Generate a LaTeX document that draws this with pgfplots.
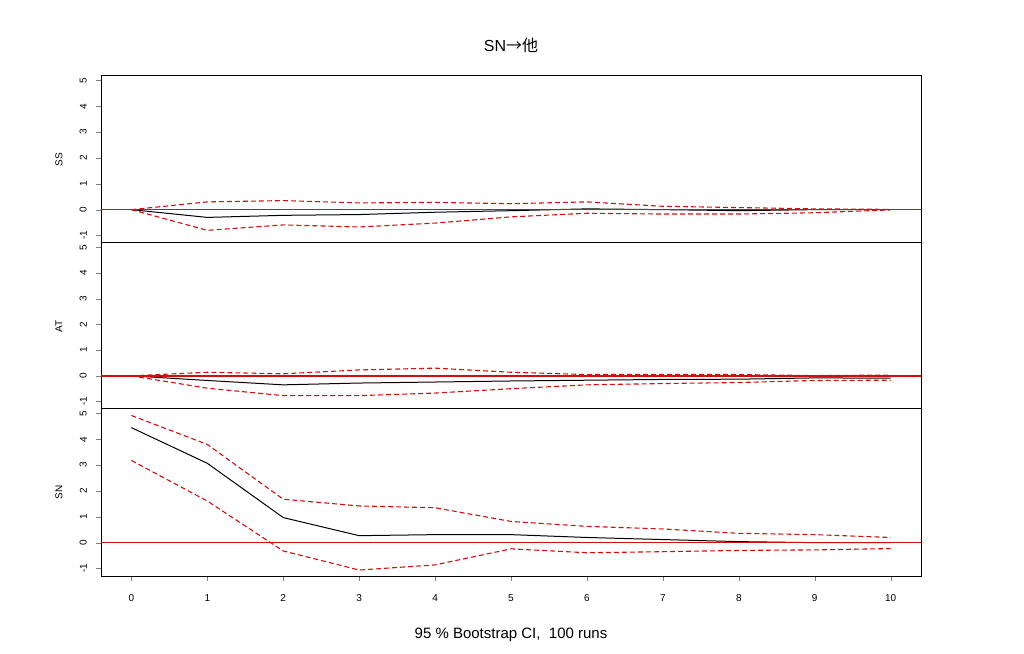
\documentclass[border=0pt]{standalone}
\usepackage{pgfplots}
\pgfplotsset{compat=1.18}
\usepackage{fontspec}
\setmainfont{Liberation Sans}
\newfontfamily\cjk{Noto Sans CJK SC}
\definecolor{rred}{RGB}{210,15,15}
\pgfplotsset{
  irfpanel/.style={
    width=820pt, scale only axis,
    xmin=-0.4, xmax=10.4, ymin=-1.29, ymax=5.17,
    ytick={-1,0,1,2,3,4,5},
    tick pos=left, tick align=outside, major tick length=5pt,
    /pgf/number format/assume math mode=true,
    tick label style={font=\fontsize{10}{12}\selectfont},
    yticklabel style={rotate=90, anchor=south, inner sep=0pt},
    xticklabel style={inner sep=0pt},
    axis line style={black, line width=1pt},
  },
  irf/.style={draw=black, line width=1pt},
  ci/.style={draw=rred, line width=1.1pt, dash pattern=on 5pt off 3pt},
  zeroline/.style={draw=rred, line width=1.5pt},
}
\begin{document}
\begin{tikzpicture}
\path[use as bounding box] (0,0) rectangle (1024pt,653pt);
% top: SS
\begin{axis}[irfpanel, at={(101pt,410pt)}, anchor=south west, height=167pt, xtick=\empty, yticklabel shift=9pt]
\addplot[irf] coordinates {(0,0) (1,-0.30) (2,-0.22) (3,-0.19) (4,-0.10) (5,-0.04) (6,0.03) (7,0.0) (8,-0.04) (9,0.0) (10,0.0)};
\addplot[zeroline] coordinates {(-1,0) (11,0)};
\addplot[ci] coordinates {(0,0) (1,0.30) (2,0.35) (3,0.26) (4,0.28) (5,0.23) (6,0.30) (7,0.13) (8,0.08) (9,0.03) (10,0.01)};
\addplot[ci] coordinates {(0,0) (1,-0.80) (2,-0.59) (3,-0.67) (4,-0.52) (5,-0.28) (6,-0.14) (7,-0.17) (8,-0.17) (9,-0.12) (10,-0.01)};
\end{axis}
% middle: AT
\begin{axis}[irfpanel, at={(101pt,244pt)}, anchor=south west, height=166pt, xtick=\empty, yticklabel shift=9pt]
\addplot[irf] coordinates {(0,0) (1,-0.18) (2,-0.35) (3,-0.28) (4,-0.24) (5,-0.20) (6,-0.17) (7,-0.14) (8,-0.13) (9,-0.08) (10,-0.09)};
\addplot[zeroline] coordinates {(-1,0) (11,0)};
\addplot[ci] coordinates {(0,0) (1,0.14) (2,0.08) (3,0.23) (4,0.30) (5,0.14) (6,0.05) (7,0.06) (8,0.05) (9,0.01) (10,0.03)};
\addplot[ci] coordinates {(0,0) (1,-0.48) (2,-0.77) (3,-0.77) (4,-0.67) (5,-0.50) (6,-0.35) (7,-0.30) (8,-0.26) (9,-0.18) (10,-0.17)};
\end{axis}
% bottom: SN
\begin{axis}[irfpanel, at={(101pt,77pt)}, anchor=south west, height=167pt, xtick={0,1,...,10}, yticklabel shift=9pt, xticklabel shift=13pt]
\addplot[irf] coordinates {(0,4.45) (1,3.07) (2,0.97) (3,0.27) (4,0.31) (5,0.31) (6,0.20) (7,0.12) (8,0.04) (9,0.0) (10,0.0)};
\addplot[zeroline] coordinates {(-1,0) (11,0)};
\addplot[ci] coordinates {(0,4.92) (1,3.80) (2,1.68) (3,1.42) (4,1.35) (5,0.82) (6,0.63) (7,0.53) (8,0.36) (9,0.31) (10,0.20)};
\addplot[ci] coordinates {(0,3.18) (1,1.61) (2,-0.32) (3,-1.06) (4,-0.86) (5,-0.24) (6,-0.39) (7,-0.35) (8,-0.30) (9,-0.28) (10,-0.23)};
\end{axis}
\node[rotate=90, font=\fontsize{10}{12}\selectfont] at (59pt,493.5pt) {SS};
\node[rotate=90, font=\fontsize{10}{12}\selectfont] at (59pt,327pt) {AT};
\node[rotate=90, font=\fontsize{10}{12}\selectfont] at (59pt,160.5pt) {SN};
\node[font=\fontsize{16}{19}\selectfont] at (511pt,607.5pt) {SN{\cjk →他}};
\node[font=\fontsize{15}{18}\selectfont] at (511pt,18.5pt) {95 \% Bootstrap CI,\ \ 100 runs};
\end{tikzpicture}
\end{document}
